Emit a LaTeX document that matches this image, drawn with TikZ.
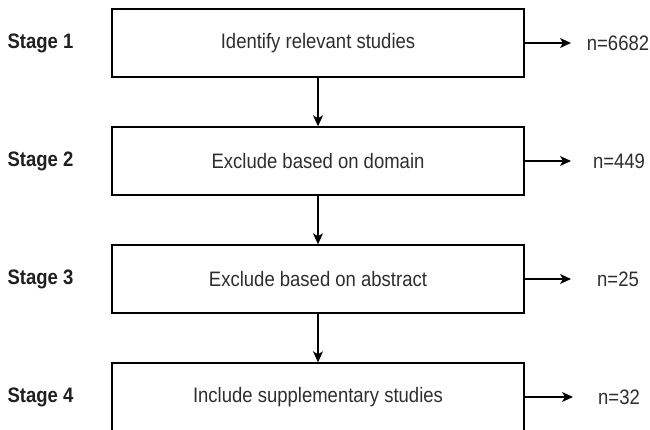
\documentclass[tikz,border=0pt]{standalone}
\usepackage{fontspec}
\setmainfont{Liberation Sans}
\usetikzlibrary{arrows.meta}
% slightly taller letterforms for all labels
\newcommand{\tallset}[1]{\scalebox{1}[1.13]{#1}}
\begin{document}
\begin{tikzpicture}[x=1pt,y=-1pt,
  stagebox/.style={draw=black, line width=1.4pt, minimum width=412pt, minimum height=68pt,
    inner sep=0pt, font=\fontsize{18.5}{22}\selectfont, text=black!82},
  stagelabel/.style={font=\fontsize{18.5}{22}\selectfont\bfseries, text=black!88},
  countlabel/.style={font=\fontsize{18.5}{22}\selectfont, text=black!82},
  flow/.style={line width=1.3pt, -{Stealth[length=11pt,width=10pt,inset=3pt]}}]
  % page frame
  \useasboundingbox (0,0) rectangle (650,430);
  \clip (0,0) rectangle (650,430);

  % process boxes
  \node[stagebox] (b1) at (318,43)  {\tallset{Identify relevant studies}};
  \node[stagebox] (b2) at (318,161) {\tallset{Exclude based on domain}};
  \node[stagebox] (b3) at (318,279) {\tallset{Exclude based on abstract}};
  \node[stagebox] (b4) at (318,397) {\tallset{Include supplementary studies}};

  % stage names
  \node[stagelabel] (s1) at (40.5,43)  {\tallset{Stage 1}};
  \node[stagelabel] (s2) at (40.5,161) {\tallset{Stage 2}};
  \node[stagelabel] (s3) at (40.5,279) {\tallset{Stage 3}};
  \node[stagelabel] (s4) at (40.5,397) {\tallset{Stage 4}};

  % study counts
  \node[countlabel] (n1) at (618,43)  {\tallset{n=6682}};
  \node[countlabel] (n2) at (619,161) {\tallset{n=449}};
  \node[countlabel] (n3) at (618,279) {\tallset{n=25}};
  \node[countlabel] (n4) at (619,397) {\tallset{n=32}};

  % arrow end points
  \coordinate (e1) at (571,43);
  \coordinate (e2) at (571,161);
  \coordinate (e3) at (571,279);
  \coordinate (e4) at (573,397);

  % flow between stages
  \draw[flow] (b1.south) -- (b2.north);
  \draw[flow] (b2.south) -- (b3.north);
  \draw[flow] (b3.south) -- (b4.north);

  % counts per stage
  \draw[flow] (b1.east) -- (e1);
  \draw[flow] (b2.east) -- (e2);
  \draw[flow] (b3.east) -- (e3);
  \draw[flow] (b4.east) -- (e4);
\end{tikzpicture}
\end{document}
